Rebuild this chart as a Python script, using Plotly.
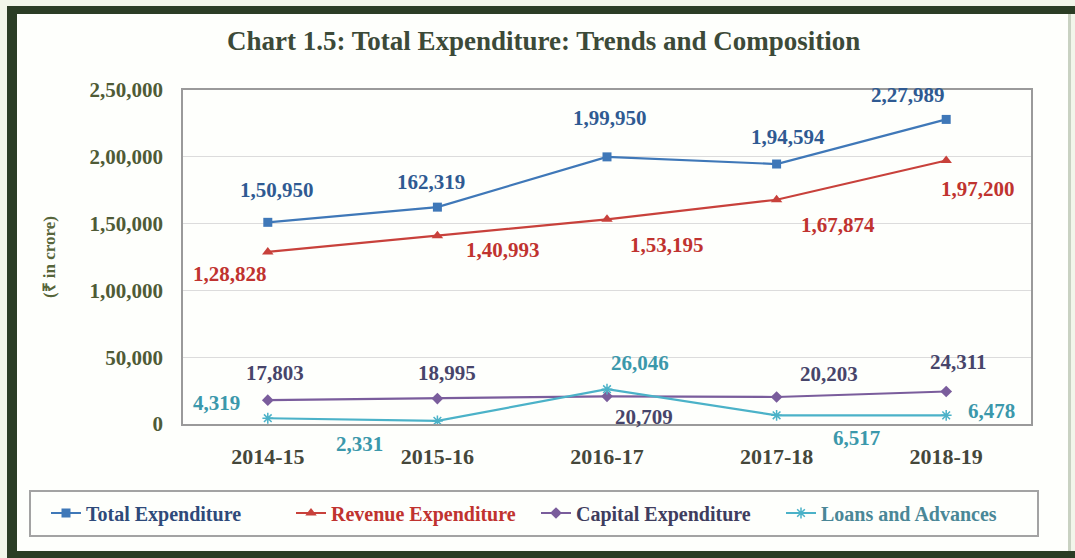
import plotly.graph_objects as go

# ---- data (₹ in crore) ----
years = ["2014-15", "2015-16", "2016-17", "2017-18", "2018-19"]
total_exp = [150950, 162319, 199950, 194594, 227989]
revenue_exp = [128828, 140993, 153195, 167874, 197200]
capital_exp = [17803, 18995, 20709, 20203, 24311]
loans_adv = [4319, 2331, 26046, 6517, 6478]

# printed value labels (as published)
total_txt = ["1,50,950", "162,319", "1,99,950", "1,94,594", "2,27,989"]
revenue_txt = ["1,28,828", "1,40,993", "1,53,195", "1,67,874", "1,97,200"]
capital_txt = ["17,803", "18,995", "20,709", "20,203", "24,311"]
loans_txt = ["4,319", "2,331", "26,046", "6,517", "6,478"]

y_ticks = [0, 50000, 100000, 150000, 200000, 250000]
y_tick_text = ["0", "50,000", "1,00,000", "1,50,000", "2,00,000", "2,50,000"]

# ---- canvas geometry ----
W, H = 1075, 558
ML, MR, MT, MB = 183, 44, 90, 134
PW, PH = W - ML - MR, H - MT - MB

def px(xp):
    return (xp - ML) / PW

def py(yp):
    return (H - MB - yp) / PH

SERIF = "Liberation Serif"

series = [
    ("Total Expenditure", total_exp, total_txt, "#3f78b8", "#2f5a92", "#2e4a7a",
     dict(symbol="square", size=9)),
    ("Revenue Expenditure", revenue_exp, revenue_txt, "#c8413b", "#c0332f", "#c0332f",
     dict(symbol="triangle-up", size=10)),
    ("Capital Expenditure", capital_exp, capital_txt, "#7a5d9c", "#47456a", "#3f3d5e",
     dict(symbol="diamond", size=9)),
    ("Loans and Advances", loans_adv, loans_txt, "#4bb2c8", "#3b98ab", "#4a8797",
     dict(symbol="asterisk-open", size=9, line=dict(width=1.5))),
]

# label offsets in pixels (dx right, dy down) per point
offsets = {
    "Total Expenditure": [(9, -32), (-6, -25), (3, -39), (11, -27), (-38, -24)],
    "Revenue Expenditure": [(-38, 22), (66, 14), (60, 26), (61, 25), (32, 28)],
    "Capital Expenditure": [(7, -27), (10, -26), (37, 21), (52, -23), (12, -30)],
    "Loans and Advances": [(-51, -15), (-78, 23), (33, -26), (80, 23), (45, -4)],
}

fig = go.Figure()
annotations = []
for name, vals, txts, lc, tc, legc, mk in series:
    mk = dict(mk)
    mk["color"] = lc
    fig.add_trace(go.Scatter(
        x=years, y=vals, mode="lines+markers",
        name=f"<span style='color:{legc}'>{name}</span>",
        line=dict(color=lc, width=2.2),
        marker=mk,
    ))
    for xv, yv, t, (dx, dy) in zip(years, vals, txts, offsets[name]):
        annotations.append(dict(
            x=xv, y=yv, xref="x", yref="y", text=t, showarrow=False,
            xshift=dx, yshift=-dy,
            font=dict(family=SERIF, size=21, color=tc, weight="bold"),
        ))

# title
annotations.append(dict(
    x=px(543), y=py(41), xref="paper", yref="paper", xanchor="center", yanchor="middle",
    text="Chart 1.5: Total Expenditure: Trends and Composition", showarrow=False,
    font=dict(family=SERIF, size=27, color="#3c4a38", weight="bold"),
))

FRAME = "#2b3d25"
shapes = [
    # white card inside the frame
    dict(type="rect", xref="paper", yref="paper", x0=px(12), x1=px(1070), y0=py(554), y1=py(10),
         fillcolor="#fefffc", line=dict(width=0), layer="below"),
    # frame bars
    dict(type="rect", xref="paper", yref="paper", x0=px(7), x1=px(17), y0=py(558), y1=py(6),
         fillcolor=FRAME, line=dict(width=0), layer="below"),
    dict(type="rect", xref="paper", yref="paper", x0=px(7), x1=px(1075), y0=py(14), y1=py(6),
         fillcolor=FRAME, line=dict(width=0), layer="below"),
    dict(type="rect", xref="paper", yref="paper", x0=px(7), x1=px(1075), y0=py(558), y1=py(551),
         fillcolor=FRAME, line=dict(width=0), layer="below"),
    dict(type="rect", xref="paper", yref="paper", x0=px(1068), x1=px(1071), y0=py(551), y1=py(14),
         fillcolor="#c9d2c2", line=dict(width=0), layer="below"),
    # legend box
    dict(type="rect", xref="paper", yref="paper", x0=px(30), x1=px(1038), y0=py(536), y1=py(491),
         fillcolor="rgba(0,0,0,0)", line=dict(color="#a3a3a3", width=2), layer="below"),
]

fig.update_layout(
    width=W, height=H,
    margin=dict(l=ML, r=MR, t=MT, b=MB),
    paper_bgcolor="#f2f6ea",
    plot_bgcolor="#ffffff",
    showlegend=True,
    legend=dict(
        orientation="h", x=px(46), y=py(513), xanchor="left", yanchor="middle",
        bgcolor="rgba(0,0,0,0)", borderwidth=0,
        font=dict(family=SERIF, size=20, weight="bold"),
        itemwidth=30, tracegroupgap=0,
        entrywidth=200, entrywidthmode="pixels",
    ),
    annotations=annotations,
    shapes=shapes,
    xaxis=dict(
        type="category", range=[-0.5, 4.5],
        showgrid=False, showline=True, linecolor="#9a9a9a", linewidth=1.5, mirror=True,
        ticks="", ticklabelstandoff=12,
        tickfont=dict(family=SERIF, size=22, color="#45473a", weight="bold"),
    ),
    yaxis=dict(
        range=[0, 250000], tickvals=y_ticks, ticktext=y_tick_text,
        showgrid=True, gridcolor="#dcdcdc", gridwidth=1,
        showline=True, linecolor="#9a9a9a", linewidth=1.5, mirror=True,
        zeroline=False, ticks="", ticklabelstandoff=14,
        tickfont=dict(family=SERIF, size=21, color="#4f5b36", weight="bold"),
        title=dict(text="(₹ in crore)", standoff=30,
                   font=dict(family=SERIF, size=17, color="#56653a", weight="bold")),
    ),
)

fig.write_html("out.html")
